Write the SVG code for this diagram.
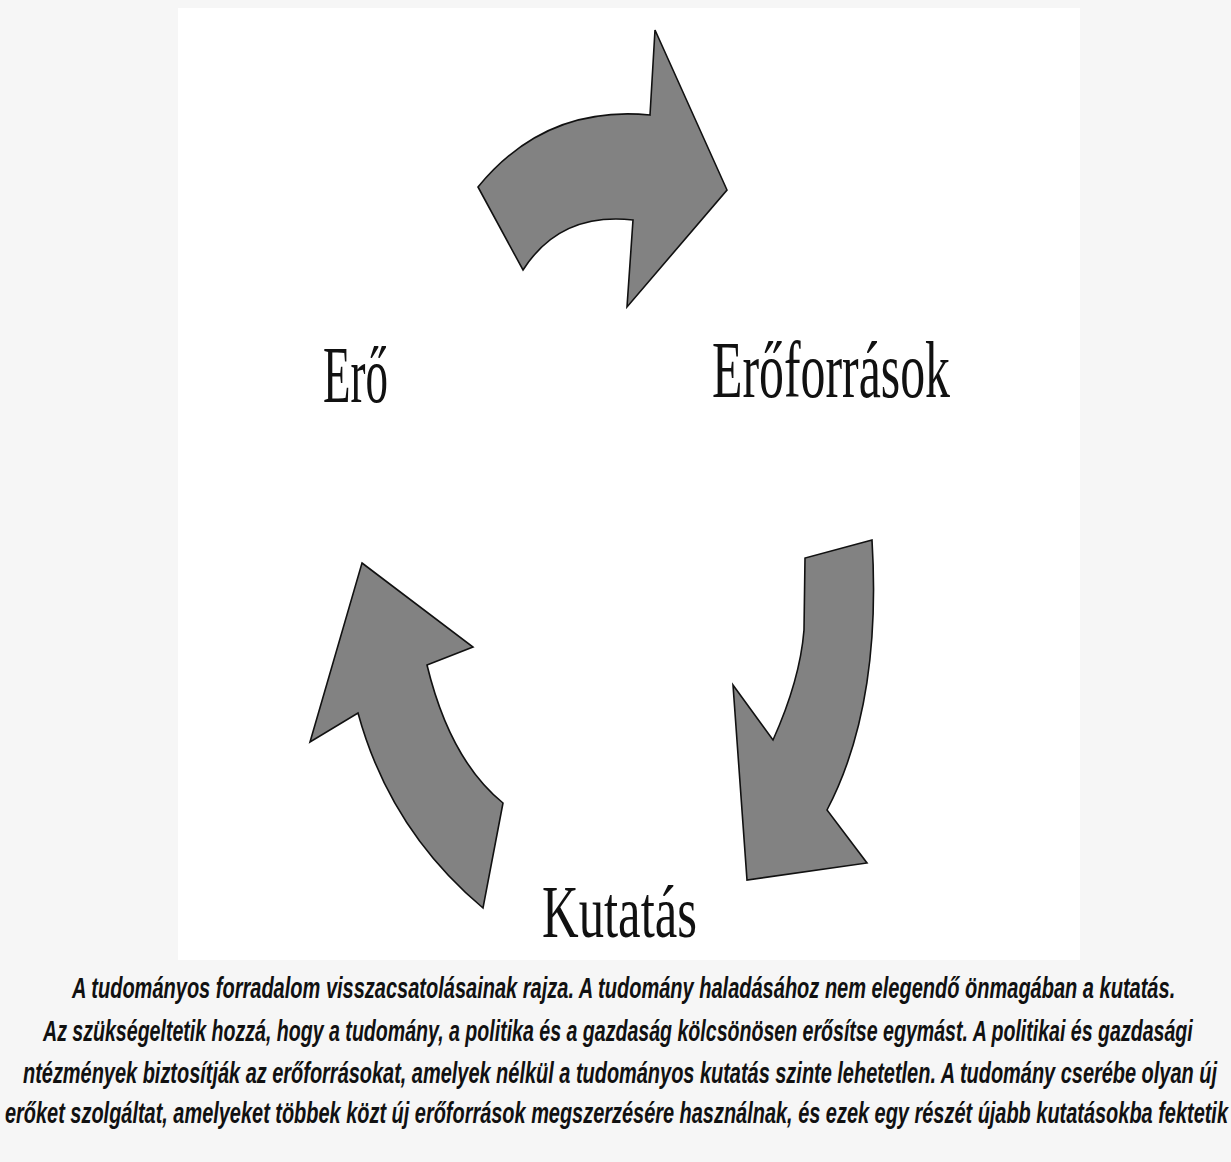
<svg xmlns="http://www.w3.org/2000/svg" width="1231" height="1162" viewBox="0 0 1231 1162">
<style>
.arrow{fill:#828282;stroke:#111;stroke-width:1.6;stroke-linejoin:miter}
.label{font-family:"Liberation Serif","Times New Roman",serif;fill:#111}
.cap{font-family:"Liberation Sans",Arial,sans-serif;font-weight:bold;font-style:italic;font-size:29px;fill:#111}
</style>
<rect x="0" y="0" width="1231" height="1162" fill="#f6f6f6"/>
<rect x="178" y="8" width="902" height="952" fill="#ffffff"/>
<g id="connectors">
<path id="arrow-top" class="arrow" d="M478,187 Q545,105 650,115 L655,30 L727,190 L627,307 L633,220 Q560,212 523,270 Z"/>
<path id="arrow-right" class="arrow" d="M872,540 L805,558 L804,630 Q800,680 773,740 L733,685 L747,880 L867,863 L827,810 Q882,705 872,540 Z"/>
<path id="arrow-left" class="arrow" d="M362,563 L473,647 L427,665 Q450,760 503,803 L483,908 Q390,830 358,713 L310,742 Z"/>
</g>
<g id="node-ero"><text class="label" x="323" y="402" font-size="80" textLength="65" lengthAdjust="spacingAndGlyphs">Erő</text></g>
<g id="node-eroforrasok"><text class="label" x="712" y="397" font-size="80" textLength="238" lengthAdjust="spacingAndGlyphs">Erőforrások</text></g>
<g id="node-kutatas"><text class="label" x="542" y="937" font-size="74" textLength="155" lengthAdjust="spacingAndGlyphs">Kutatás</text></g>
<g id="caption">
<text class="cap" transform="translate(72,998) scale(0.7,1)" x="0" y="0" textLength="1576" lengthAdjust="spacingAndGlyphs">A tudományos forradalom visszacsatolásainak rajza. A tudomány haladásához nem elegendő önmagában a kutatás.</text>
<text class="cap" transform="translate(43,1041) scale(0.66,1)" x="0" y="0" textLength="1742" lengthAdjust="spacingAndGlyphs">Az szükségeltetik hozzá, hogy a tudomány, a politika és a gazdaság kölcsönösen erősítse egymást. A politikai és gazdasági</text>
<text class="cap" transform="translate(23,1083) scale(0.66,1)" x="0" y="0" textLength="1809" lengthAdjust="spacingAndGlyphs">ntézmények biztosítják az erőforrásokat, amelyek nélkül a tudományos kutatás szinte lehetetlen. A tudomány cserébe olyan új</text>
<text class="cap" transform="translate(5,1123) scale(0.66,1)" x="0" y="0" textLength="1853" lengthAdjust="spacingAndGlyphs">erőket szolgáltat, amelyeket többek közt új erőforrások megszerzésére használnak, és ezek egy részét újabb kutatásokba fektetik</text>
</g>
</svg>
